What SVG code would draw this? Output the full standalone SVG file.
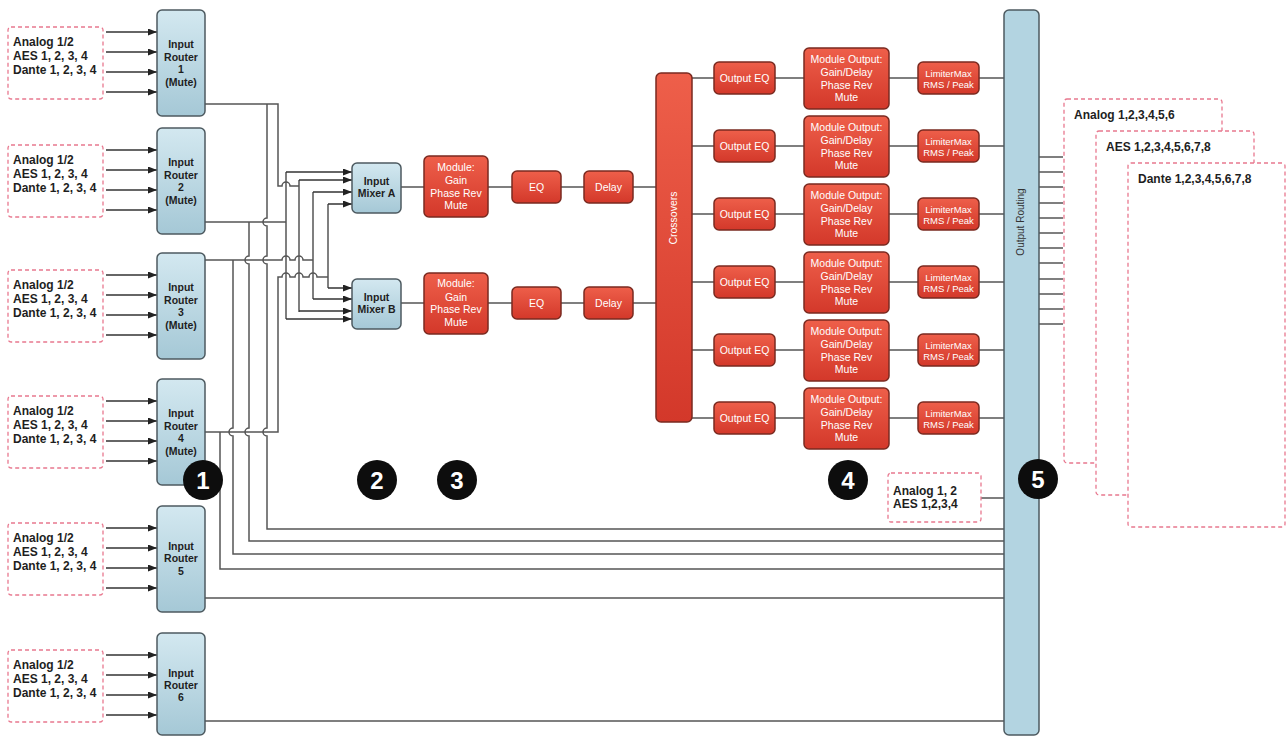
<svg xmlns="http://www.w3.org/2000/svg" width="1287" height="737" viewBox="0 0 1287 737">
<style>
.bg{fill:#ffffff}
.inbox{fill:#ffffff;stroke:#e8788f;stroke-width:1.3;stroke-dasharray:4 3}
.router{fill:url(#blueGrad);stroke:#4d5a60;stroke-width:1.5}
.red{fill:url(#redGrad);stroke:#7a2a20;stroke-width:1.5}
.bt{font-family:"Liberation Sans",Arial,sans-serif;font-weight:bold;fill:#1e1e1e}
.in{font-size:12px}
.rt{font-size:10.5px;text-anchor:middle}
.wt{font-family:"Liberation Sans",Arial,sans-serif;fill:#ffffff;text-anchor:middle;font-size:10.5px}
.lim{font-size:9.5px}
.con{fill:none;stroke:#555;stroke-width:1.5}
.arr{fill:none;stroke:#333;stroke-width:1.5;marker-end:url(#ah)}
.badge{fill:#0d0d0d}
.bn{font-family:"Liberation Sans",Arial,sans-serif;font-weight:bold;font-size:24px;fill:#fff;text-anchor:middle}
.out{font-size:12px}
</style>
<defs>
<linearGradient id="blueGrad" x1="0" y1="0" x2="0" y2="1">
<stop offset="0" stop-color="#d3e8f0"/>
<stop offset="1" stop-color="#a5c8d6"/>
</linearGradient>
<linearGradient id="redGrad" x1="0" y1="0" x2="0" y2="1">
<stop offset="0" stop-color="#ee5f4a"/>
<stop offset="1" stop-color="#d3382a"/>
</linearGradient>
<marker id="ah" markerUnits="userSpaceOnUse" markerWidth="9" markerHeight="7" refX="9" refY="3.5" orient="auto">
<path d="M0,0 L9,3.5 L0,7 z" fill="#222"/>
</marker>
</defs>
<rect class="bg" x="0" y="0" width="1287" height="737"/>

<g id="connectors">
<!-- input arrows -->
<path class="arr" d="M106,32 H157"/><path class="arr" d="M106,52 H157"/><path class="arr" d="M106,72 H157"/><path class="arr" d="M106,92 H157"/>
<path class="arr" d="M106,150 H157"/><path class="arr" d="M106,170 H157"/><path class="arr" d="M106,190 H157"/><path class="arr" d="M106,210 H157"/>
<path class="arr" d="M106,275 H157"/><path class="arr" d="M106,295 H157"/><path class="arr" d="M106,315 H157"/><path class="arr" d="M106,335 H157"/>
<path class="arr" d="M106,401 H157"/><path class="arr" d="M106,421 H157"/><path class="arr" d="M106,441 H157"/><path class="arr" d="M106,461 H157"/>
<path class="arr" d="M106,528 H157"/><path class="arr" d="M106,548 H157"/><path class="arr" d="M106,568 H157"/><path class="arr" d="M106,588 H157"/>
<path class="arr" d="M106,655 H157"/><path class="arr" d="M106,675 H157"/><path class="arr" d="M106,695 H157"/><path class="arr" d="M106,715 H157"/>
<!-- router outputs -->
<path class="con" d="M205,104 H278 V186 H282 a4,4 0 0 1 8,0 H299"/>
<path class="con" d="M267,104 V218 a4,4 0 0 0 0,8 V256 a4,4 0 0 0 0,8 V428 a4,4 0 0 0 0,8 V529 H1004"/>
<path class="con" d="M205,222 H286"/>
<path class="con" d="M249,222 V256 a4,4 0 0 0 0,8 V428 a4,4 0 0 0 0,8 V541 H1004"/>
<path class="con" d="M205,260 H282 a4,4 0 0 1 8,0 H295 a4,4 0 0 1 8,0 H313"/>
<path class="con" d="M233,260 V428 a4,4 0 0 0 0,8 V554 H1004"/>
<path class="con" d="M205,432 H278 V277 H282 a4,4 0 0 1 8,0 H295 a4,4 0 0 1 8,0 H309 a4,4 0 0 1 8,0 H328"/>
<path class="con" d="M220,432 V569 H1004"/>
<path class="con" d="M205,598 H1004"/>
<path class="con" d="M205,721 H1004"/>
<!-- mixer feeds -->
<path class="con" d="M286,172 V319 M299,180 V312 M313,192 V299 M328,204 V288"/>
<path class="arr" d="M286,172 H352"/><path class="arr" d="M299,180 H352"/><path class="arr" d="M313,192 H352"/><path class="arr" d="M328,204 H352"/>
<path class="arr" d="M328,288 H352"/><path class="arr" d="M313,299 H352"/><path class="arr" d="M299,311 H352"/><path class="arr" d="M286,319 H352"/>
<!-- chains -->
<path class="con" d="M401,187 H424 M488,187 H512 M561,187 H584 M633,187 H656"/>
<path class="con" d="M401,303 H424 M488,303 H512 M561,303 H584 M633,303 H656"/>
<path class="con" d="M691,78 H714 M775,78 H804 M889,78 H918 M979,78 H1004"/>
<path class="con" d="M691,146 H714 M775,146 H804 M889,146 H918 M979,146 H1004"/>
<path class="con" d="M691,214 H714 M775,214 H804 M889,214 H918 M979,214 H1004"/>
<path class="con" d="M691,282 H714 M775,282 H804 M889,282 H918 M979,282 H1004"/>
<path class="con" d="M691,350 H714 M775,350 H804 M889,350 H918 M979,350 H1004"/>
<path class="con" d="M691,418 H714 M775,418 H804 M889,418 H918 M979,418 H1004"/>
<path class="con" d="M981,498 H1004"/>
<!-- output stubs -->
<path class="con" d="M1039,157 H1063 M1039,172 H1063 M1039,187 H1063 M1039,203 H1063 M1039,218 H1063 M1039,233 H1063 M1039,248 H1063 M1039,263 H1063 M1039,279 H1063 M1039,294 H1063 M1039,309 H1063 M1039,324 H1063"/>
</g>

<!-- inputs -->
<g id="input1">
<rect class="inbox" x="8" y="27" width="95" height="72" rx="3"/>
<text class="bt in" x="13" y="46">Analog 1/2</text>
<text class="bt in" x="13" y="60">AES 1, 2, 3, 4</text>
<text class="bt in" x="13" y="74">Dante 1, 2, 3, 4</text>
</g>
<g id="input2">
<rect class="inbox" x="8" y="145" width="95" height="72" rx="3"/>
<text class="bt in" x="13" y="164">Analog 1/2</text>
<text class="bt in" x="13" y="178">AES 1, 2, 3, 4</text>
<text class="bt in" x="13" y="192">Dante 1, 2, 3, 4</text>
</g>
<g id="input3">
<rect class="inbox" x="8" y="270" width="95" height="72" rx="3"/>
<text class="bt in" x="13" y="289">Analog 1/2</text>
<text class="bt in" x="13" y="303">AES 1, 2, 3, 4</text>
<text class="bt in" x="13" y="317">Dante 1, 2, 3, 4</text>
</g>
<g id="input4">
<rect class="inbox" x="8" y="396" width="95" height="72" rx="3"/>
<text class="bt in" x="13" y="415">Analog 1/2</text>
<text class="bt in" x="13" y="429">AES 1, 2, 3, 4</text>
<text class="bt in" x="13" y="443">Dante 1, 2, 3, 4</text>
</g>
<g id="input5">
<rect class="inbox" x="8" y="523" width="95" height="72" rx="3"/>
<text class="bt in" x="13" y="542">Analog 1/2</text>
<text class="bt in" x="13" y="556">AES 1, 2, 3, 4</text>
<text class="bt in" x="13" y="570">Dante 1, 2, 3, 4</text>
</g>
<g id="input6">
<rect class="inbox" x="8" y="650" width="95" height="72" rx="3"/>
<text class="bt in" x="13" y="669">Analog 1/2</text>
<text class="bt in" x="13" y="683">AES 1, 2, 3, 4</text>
<text class="bt in" x="13" y="697">Dante 1, 2, 3, 4</text>
</g>

<!-- routers -->
<g id="router1">
<rect class="router" x="157" y="10" width="48" height="106" rx="5"/>
<text class="bt rt" x="181" y="48">Input</text>
<text class="bt rt" x="181" y="61">Router</text>
<text class="bt rt" x="181" y="73">1</text>
<text class="bt rt" x="181" y="86">(Mute)</text>
</g>
<g id="router2">
<rect class="router" x="157" y="128" width="48" height="106" rx="5"/>
<text class="bt rt" x="181" y="166">Input</text>
<text class="bt rt" x="181" y="179">Router</text>
<text class="bt rt" x="181" y="191">2</text>
<text class="bt rt" x="181" y="204">(Mute)</text>
</g>
<g id="router3">
<rect class="router" x="157" y="253" width="48" height="106" rx="5"/>
<text class="bt rt" x="181" y="291">Input</text>
<text class="bt rt" x="181" y="304">Router</text>
<text class="bt rt" x="181" y="316">3</text>
<text class="bt rt" x="181" y="329">(Mute)</text>
</g>
<g id="router4">
<rect class="router" x="157" y="379" width="48" height="106" rx="5"/>
<text class="bt rt" x="181" y="417">Input</text>
<text class="bt rt" x="181" y="430">Router</text>
<text class="bt rt" x="181" y="442">4</text>
<text class="bt rt" x="181" y="455">(Mute)</text>
</g>
<g id="router5">
<rect class="router" x="157" y="506" width="48" height="106" rx="5"/>
<text class="bt rt" x="181" y="550">Input</text>
<text class="bt rt" x="181" y="562">Router</text>
<text class="bt rt" x="181" y="575">5</text>
</g>
<g id="router6">
<rect class="router" x="157" y="633" width="48" height="102" rx="5"/>
<text class="bt rt" x="181" y="677">Input</text>
<text class="bt rt" x="181" y="689">Router</text>
<text class="bt rt" x="181" y="701">6</text>
</g>

<!-- mixers -->
<g id="mixerA">
<rect class="router" x="352" y="163" width="49" height="50" rx="5"/>
<text class="bt rt" x="376.5" y="185" font-size="11">Input</text>
<text class="bt rt" x="376.5" y="197" font-size="11">Mixer A</text>
</g>
<g id="mixerB">
<rect class="router" x="352" y="279" width="49" height="50" rx="5"/>
<text class="bt rt" x="376.5" y="301" font-size="11">Input</text>
<text class="bt rt" x="376.5" y="313" font-size="11">Mixer B</text>
</g>

<!-- chain A -->
<g id="moduleA">
<rect class="red" x="424" y="156" width="64" height="61" rx="5"/>
<text class="wt" x="456" y="171">Module:</text>
<text class="wt" x="456" y="184">Gain</text>
<text class="wt" x="456" y="196.5">Phase Rev</text>
<text class="wt" x="456" y="209">Mute</text>
</g>
<g id="eqA">
<rect class="red" x="512" y="171" width="49" height="32" rx="5"/>
<text class="wt" x="536.5" y="191">EQ</text>
</g>
<g id="delayA">
<rect class="red" x="584" y="171" width="49" height="32" rx="5"/>
<text class="wt" x="608.5" y="191">Delay</text>
</g>
<!-- chain B -->
<g id="moduleB">
<rect class="red" x="424" y="273" width="64" height="61" rx="5"/>
<text class="wt" x="456" y="287">Module:</text>
<text class="wt" x="456" y="300.5">Gain</text>
<text class="wt" x="456" y="313">Phase Rev</text>
<text class="wt" x="456" y="325.5">Mute</text>
</g>
<g id="eqB">
<rect class="red" x="512" y="287" width="49" height="32" rx="5"/>
<text class="wt" x="536.5" y="307">EQ</text>
</g>
<g id="delayB">
<rect class="red" x="584" y="287" width="49" height="32" rx="5"/>
<text class="wt" x="608.5" y="307">Delay</text>
</g>

<g id="crossovers">
<rect class="red" x="656" y="73" width="36" height="349" rx="5"/>
<text class="wt" transform="translate(677,218) rotate(-90)" x="0" y="0" font-size="10">Crossovers</text>
</g>

<!-- output rows -->
<g id="out1">
<rect class="red" x="714" y="62" width="61" height="32" rx="5"/>
<text class="wt" x="744.5" y="82" font-size="11">Output EQ</text>
<rect class="red" x="804" y="48" width="85" height="61" rx="5"/>
<text class="wt" x="846.5" y="63">Module Output:</text>
<text class="wt" x="846.5" y="76">Gain/Delay</text>
<text class="wt" x="846.5" y="88.5">Phase Rev</text>
<text class="wt" x="846.5" y="101">Mute</text>
<rect class="red" x="918" y="62" width="61" height="32" rx="5"/>
<text class="wt lim" x="948.5" y="77">LimiterMax</text>
<text class="wt lim" x="948.5" y="88">RMS / Peak</text>
</g>
<g id="out2">
<rect class="red" x="714" y="130" width="61" height="32" rx="5"/>
<text class="wt" x="744.5" y="150" font-size="11">Output EQ</text>
<rect class="red" x="804" y="116" width="85" height="61" rx="5"/>
<text class="wt" x="846.5" y="131">Module Output:</text>
<text class="wt" x="846.5" y="144">Gain/Delay</text>
<text class="wt" x="846.5" y="156.5">Phase Rev</text>
<text class="wt" x="846.5" y="169">Mute</text>
<rect class="red" x="918" y="130" width="61" height="32" rx="5"/>
<text class="wt lim" x="948.5" y="145">LimiterMax</text>
<text class="wt lim" x="948.5" y="156">RMS / Peak</text>
</g>
<g id="out3">
<rect class="red" x="714" y="198" width="61" height="32" rx="5"/>
<text class="wt" x="744.5" y="218" font-size="11">Output EQ</text>
<rect class="red" x="804" y="184" width="85" height="61" rx="5"/>
<text class="wt" x="846.5" y="199">Module Output:</text>
<text class="wt" x="846.5" y="212">Gain/Delay</text>
<text class="wt" x="846.5" y="224.5">Phase Rev</text>
<text class="wt" x="846.5" y="237">Mute</text>
<rect class="red" x="918" y="198" width="61" height="32" rx="5"/>
<text class="wt lim" x="948.5" y="213">LimiterMax</text>
<text class="wt lim" x="948.5" y="224">RMS / Peak</text>
</g>
<g id="out4">
<rect class="red" x="714" y="266" width="61" height="32" rx="5"/>
<text class="wt" x="744.5" y="286" font-size="11">Output EQ</text>
<rect class="red" x="804" y="252" width="85" height="61" rx="5"/>
<text class="wt" x="846.5" y="267">Module Output:</text>
<text class="wt" x="846.5" y="280">Gain/Delay</text>
<text class="wt" x="846.5" y="292.5">Phase Rev</text>
<text class="wt" x="846.5" y="305">Mute</text>
<rect class="red" x="918" y="266" width="61" height="32" rx="5"/>
<text class="wt lim" x="948.5" y="281">LimiterMax</text>
<text class="wt lim" x="948.5" y="292">RMS / Peak</text>
</g>
<g id="out5">
<rect class="red" x="714" y="334" width="61" height="32" rx="5"/>
<text class="wt" x="744.5" y="354" font-size="11">Output EQ</text>
<rect class="red" x="804" y="320" width="85" height="61" rx="5"/>
<text class="wt" x="846.5" y="335">Module Output:</text>
<text class="wt" x="846.5" y="348">Gain/Delay</text>
<text class="wt" x="846.5" y="360.5">Phase Rev</text>
<text class="wt" x="846.5" y="373">Mute</text>
<rect class="red" x="918" y="334" width="61" height="32" rx="5"/>
<text class="wt lim" x="948.5" y="349">LimiterMax</text>
<text class="wt lim" x="948.5" y="360">RMS / Peak</text>
</g>
<g id="out6">
<rect class="red" x="714" y="402" width="61" height="32" rx="5"/>
<text class="wt" x="744.5" y="422" font-size="11">Output EQ</text>
<rect class="red" x="804" y="388" width="85" height="61" rx="5"/>
<text class="wt" x="846.5" y="403">Module Output:</text>
<text class="wt" x="846.5" y="416">Gain/Delay</text>
<text class="wt" x="846.5" y="428.5">Phase Rev</text>
<text class="wt" x="846.5" y="441">Mute</text>
<rect class="red" x="918" y="402" width="61" height="32" rx="5"/>
<text class="wt lim" x="948.5" y="417">LimiterMax</text>
<text class="wt lim" x="948.5" y="428">RMS / Peak</text>
</g>

<g id="localOut">
<rect class="inbox" x="888" y="473" width="93" height="49" rx="3"/>
<text class="bt in" x="893" y="495">Analog 1, 2</text>
<text class="bt in" x="893" y="508">AES 1,2,3,4</text>
</g>

<g id="outputRouting">
<rect x="1004" y="10" width="35" height="725" rx="5" fill="#b3d4e1" stroke="#4d5a60" stroke-width="1.5"/>
<text transform="translate(1024,222) rotate(-90)" x="0" y="0" font-family="Liberation Sans, Arial, sans-serif" font-size="10" fill="#333" text-anchor="middle">Output Routing</text>
</g>

<g id="outAnalog">
<rect class="inbox" x="1064" y="99" width="158" height="364" rx="3"/>
<text class="bt out" x="1074" y="119">Analog 1,2,3,4,5,6</text>
</g>
<g id="outAES">
<rect class="inbox" x="1096" y="131" width="158" height="364" rx="3"/>
<text class="bt out" x="1106" y="151">AES 1,2,3,4,5,6,7,8</text>
</g>
<g id="outDante">
<rect class="inbox" x="1128" y="163" width="157" height="364" rx="3"/>
<text class="bt out" x="1138" y="183">Dante 1,2,3,4,5,6,7,8</text>
</g>

<g id="badges">
<circle class="badge" cx="203" cy="480" r="20"/>
<text class="bn" x="203" y="489">1</text>
<circle class="badge" cx="377" cy="480" r="20"/>
<text class="bn" x="377" y="489">2</text>
<circle class="badge" cx="457" cy="480" r="20"/>
<text class="bn" x="457" y="489">3</text>
<circle class="badge" cx="848" cy="480" r="20"/>
<text class="bn" x="848" y="489">4</text>
<circle class="badge" cx="1038" cy="479" r="20"/>
<text class="bn" x="1038" y="488">5</text>
</g>
</svg>
